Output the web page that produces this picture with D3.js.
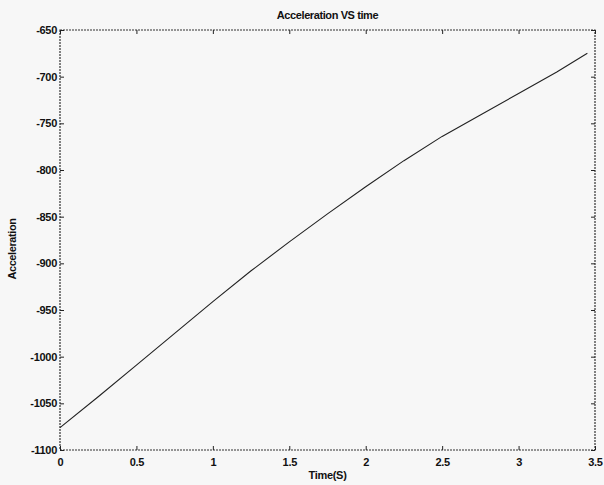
<!DOCTYPE html>
<html>
<head>
<meta charset="utf-8">
<script src="https://cdn.jsdelivr.net/npm/d3@7"></script>
<style>
  body { margin: 0; background: #f7f7f7; }
  svg text { font-family: "Liberation Sans", Arial, sans-serif; fill: #111; }
</style>
</head>
<body>
<div id="chart"></div>
<script>
// time (s) and acceleration
var time = [0, 0.25, 0.5, 0.75, 1.0, 1.25, 1.5, 1.75, 2.0, 2.25, 2.5, 2.75, 3.0, 3.25, 3.45];
var accel = [-1076, -1043, -1009, -975, -941, -908, -877, -847, -818, -790, -764, -741, -718, -695, -675];

var xTicks = [0, 0.5, 1, 1.5, 2, 2.5, 3, 3.5];
var yTicks = [-1100, -1050, -1000, -950, -900, -850, -800, -750, -700, -650];

var svgWidth = 604;
var svgHeight = 485;

var margin = { top: 30, right: 9, bottom: 35, left: 60 };

var width = svgWidth - margin.left - margin.right;
var height = svgHeight - margin.top - margin.bottom;

var svg = d3.select("#chart")
  .append("svg")
  .attr("width", svgWidth)
  .attr("height", svgHeight);

var chartGroup = svg.append("g")
  .attr("transform", `translate(${margin.left}, ${margin.top})`);

var xScale = d3.scaleLinear().domain([0, 3.5]).range([0, width]);
var yScale = d3.scaleLinear().domain([-1100, -650]).range([height, 0]);

// box around the plot
chartGroup.append("rect")
  .attr("width", width)
  .attr("height", height)
  .attr("fill", "none")
  .attr("stroke", "#333")
  .attr("stroke-width", 1.2)
  .attr("stroke-dasharray", "2,1");

// plain hyphen for negatives, like the original
var tickFmt = d => String(d);

// bottom axis, ticks pointing in
var xAxis = chartGroup.append("g")
  .attr("transform", `translate(0, ${height})`)
  .call(d3.axisBottom(xScale).tickValues(xTicks).tickSizeInner(-4).tickSizeOuter(0).tickPadding(8).tickFormat(tickFmt));

// top axis ticks only
chartGroup.append("g")
  .call(d3.axisTop(xScale).tickValues(xTicks).tickSizeInner(-4).tickSizeOuter(0).tickFormat(""));

// left axis
var yAxis = chartGroup.append("g")
  .call(d3.axisLeft(yScale).tickValues(yTicks).tickSizeInner(-4).tickSizeOuter(0).tickPadding(3).tickFormat(tickFmt));

// right axis ticks only
chartGroup.append("g")
  .attr("transform", `translate(${width}, 0)`)
  .call(d3.axisRight(yScale).tickValues(yTicks).tickSizeInner(-4).tickSizeOuter(0).tickFormat(""));

chartGroup.selectAll(".domain").remove();
chartGroup.selectAll(".tick line").attr("stroke", "#222");
chartGroup.selectAll(".tick text")
  .attr("font-size", 11)
  .attr("font-weight", "bold")
  .attr("letter-spacing", -0.3);

// the line
var line = d3.line()
  .x((d, i) => xScale(time[i]))
  .y(d => yScale(d));

chartGroup.append("path")
  .datum(accel)
  .attr("d", line)
  .attr("fill", "none")
  .attr("stroke", "#222")
  .attr("stroke-width", 1.1);

// title and axis labels
svg.append("text")
  .attr("x", margin.left + width / 2)
  .attr("y", 19)
  .attr("text-anchor", "middle")
  .attr("font-size", 11)
  .attr("font-weight", "bold")
  .attr("letter-spacing", -0.4)
  .text("Acceleration VS time");

svg.append("text")
  .attr("x", margin.left + width / 2)
  .attr("y", 479)
  .attr("text-anchor", "middle")
  .attr("font-size", 11)
  .attr("font-weight", "bold")
  .attr("letter-spacing", -0.3)
  .text("Time(S)");

svg.append("text")
  .attr("transform", `translate(16, 249) rotate(-90)`)
  .attr("text-anchor", "middle")
  .attr("font-size", 11)
  .attr("font-weight", "bold")
  .attr("letter-spacing", -0.4)
  .text("Acceleration");
</script>
</body>
</html>
